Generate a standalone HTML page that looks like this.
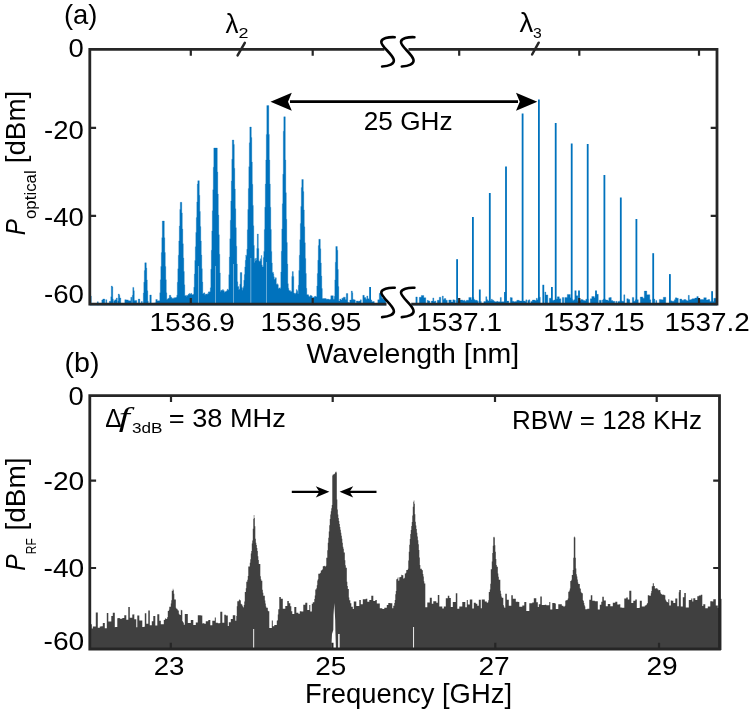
<!DOCTYPE html>
<html lang="en"><head><meta charset="utf-8"><title>Optical and RF spectra</title>
<style>html,body{margin:0;padding:0;background:#fff}svg{display:block}svg{will-change:transform}text{font-family:'Liberation Sans', sans-serif;fill:#000}</style></head><body>
<svg width="750" height="714" viewBox="0 0 750 714">
<rect width="750" height="714" fill="#fff"/>
<g id="panel-a">
<path d="M89.8,305.2L89.8,296.12 H90.3L90.3,296.12 H90.8L90.8,296.12 H91.3L91.3,305.2 H91.8L91.8,305.2 H92.3L92.3,305.2 H92.8L92.8,305.2 H93.3L93.3,305.2 H93.8L93.8,305.2 H94.3L94.3,305.2 H94.8L94.8,305.2 H95.3L95.3,305.2 H95.8L95.8,305.2 H96.3L96.3,305.2 H96.8L96.8,305.2 H97.3L97.3,301.74 H97.8L97.8,301.74 H98.3L98.3,305.2 H98.8L98.8,305.2 H99.3L99.3,305.2 H99.8L99.8,305.2 H100.3L100.3,305.2 H100.8L100.8,305.2 H101.3L101.3,305.2 H101.8L101.8,300.05 H102.3L102.3,300.05 H102.8L102.8,299.02 H103.3L103.3,299.02 H103.8L103.8,299.02 H104.3L104.3,299.02 H104.8L104.8,305.2 H105.3L105.3,305.2 H105.8L105.8,299.71 H106.3L106.3,299.71 H106.8L106.8,305.2 H107.3L107.3,305.2 H107.8L107.8,305.2 H108.3L108.3,305.2 H108.8L108.8,305.2 H109.3L109.3,301.37 H109.8L109.8,301.37 H110.3L110.3,301.37 H110.8L110.8,296.78 H111.3L111.3,286 H111.8L111.8,286 H112.3L112.3,287.03 H112.8L112.8,298.95 H113.3L113.3,305.2 H113.8L113.8,300.76 H114.3L114.3,300.76 H114.8L114.8,299.78 H115.3L115.3,299.78 H115.8L115.8,299.78 H116.3L116.3,298.04 H116.8L116.8,298.04 H117.3L117.3,305.2 H117.8L117.8,301.01 H118.3L118.3,294 H118.8L118.8,294 H119.3L119.3,295.31 H119.8L119.8,297.96 H120.3L120.3,297.96 H120.8L120.8,305.2 H121.3L121.3,305.2 H121.8L121.8,305.2 H122.3L122.3,305.2 H122.8L122.8,305.2 H123.3L123.3,305.2 H123.8L123.8,305.2 H124.3L124.3,305.2 H124.8L124.8,299.69 H125.3L125.3,299.69 H125.8L125.8,299.69 H126.3L126.3,299.89 H126.8L126.8,299.89 H127.3L127.3,299.89 H127.8L127.8,299.89 H128.3L128.3,300.76 H128.8L128.8,300.76 H129.3L129.3,300.76 H129.8L129.8,300.76 H130.3L130.3,300.76 H130.8L130.8,297.35 H131.3L131.3,297.35 H131.8L131.8,305.2 H132.3L132.3,295.28 H132.8L132.8,287.4 H133.3L133.3,287.4 H133.8L133.8,290.87 H134.3L134.3,300.41 H134.8L134.8,300.41 H135.3L135.3,300.41 H135.8L135.8,300.41 H136.3L136.3,300.41 H136.8L136.8,305.2 H137.3L137.3,305.2 H137.8L137.8,305.2 H138.3L138.3,299.03 H138.8L138.8,299.03 H139.3L139.3,299.03 H139.8L139.8,305.2 H140.3L140.3,305.2 H140.8L140.8,305.2 H141.3L141.3,301.4 H141.8L141.8,301.4 H142.3L142.3,305.2 H142.8L142.8,303.2 H143.3L143.3,292.96 H143.8L143.8,282.22 H144.3L144.3,270.52 H144.8L144.8,262.8 H145.3L145.3,262.8 H145.8L145.8,262.8 H146.3L146.3,267.94 H146.8L146.8,279.98 H147.3L147.3,290.86 H147.8L147.8,301.18 H148.3L148.3,305.2 H148.8L148.8,305.2 H149.3L149.3,305.2 H149.8L149.8,294.97 H150.3L150.3,294.97 H150.8L150.8,294.97 H151.3L151.3,303.76 H151.8L151.8,303.62 H152.3L152.3,303.57 H152.8L152.8,303.38 H153.3L153.3,303.32 H153.8L153.8,303.2 H154.3L154.3,303.08 H154.8L154.8,302.92 H155.3L155.3,302.8 H155.8L155.8,299.49 H156.3L156.3,299.49 H156.8L156.8,299.49 H157.3L157.3,301.05 H157.8L157.8,301.05 H158.3L158.3,300.71 H158.8L158.8,300.71 H159.3L159.3,300.85 H159.8L159.8,292.81 H160.3L160.3,279.85 H160.8L160.8,266.48 H161.3L161.3,252.55 H161.8L161.8,237.67 H162.3L162.3,221 H162.8L162.8,221 H163.3L163.3,221 H163.8L163.8,221 H164.3L164.3,237.67 H164.8L164.8,252.55 H165.3L165.3,266.48 H165.8L165.8,279.85 H166.3L166.3,292.81 H166.8L166.8,299.84 H167.3L167.3,299.01 H167.8L167.8,298.73 H168.3L168.3,298.28 H168.8L168.8,298.28 H169.3L169.3,295.29 H169.8L169.8,295.29 H170.3L170.3,295.29 H170.8L170.8,297.22 H171.3L171.3,297.22 H171.8L171.8,298.42 H172.3L172.3,298.15 H172.8L172.8,298.67 H173.3L173.3,298.18 H173.8L173.8,297.78 H174.3L174.3,298.25 H174.8L174.8,297.45 H175.3L175.3,297.74 H175.8L175.8,298.1 H176.3L176.3,297.09 H176.8L176.8,295.23 H177.3L177.3,282.2 H177.8L177.8,268.87 H178.3L178.3,255.17 H178.8L178.8,240.96 H179.3L179.3,225.97 H179.8L179.8,209.38 H180.3L180.3,202.3 H180.8L180.8,202.3 H181.3L181.3,202.3 H181.8L181.8,212.94 H182.3L182.3,229.05 H182.8L182.8,243.85 H183.3L183.3,257.95 H183.8L183.8,271.57 H184.3L184.3,284.83 H184.8L184.8,295.84 H185.3L185.3,295.81 H185.8L185.8,295.32 H186.3L186.3,296.55 H186.8L186.8,295.4 H187.3L187.3,295.42 H187.8L187.8,295.36 H188.3L188.3,293.99 H188.8L188.8,294.35 H189.3L189.3,293.37 H189.8L189.8,294.6 H190.3L190.3,294.03 H190.8L190.8,293.23 H191.3L191.3,293.47 H191.8L191.8,294.83 H192.3L192.3,294.7 H192.8L192.8,294.59 H193.3L193.3,294.28 H193.8L193.8,287.3 H194.3L194.3,274.04 H194.8L194.8,260.52 H195.3L195.3,246.69 H195.8L195.8,232.43 H196.3L196.3,217.62 H196.8L196.8,201.91 H197.3L197.3,184.05 H197.8L197.8,180.7 H198.3L198.3,180.7 H198.8L198.8,180.7 H199.3L199.3,195.2 H199.8L199.8,211.47 H200.3L200.3,226.59 H200.8L200.8,241.04 H201.3L201.3,255.03 H201.8L201.8,268.67 H202.3L202.3,282.02 H202.8L202.8,293.98 H203.3L203.3,293.17 H203.8L203.8,293.01 H204.3L204.3,292.83 H204.8L204.8,295.18 H205.3L205.3,294.35 H205.8L205.8,294.08 H206.3L206.3,294.11 H206.8L206.8,294.7 H207.3L207.3,293.76 H207.8L207.8,294.12 H208.3L208.3,291.96 H208.8L208.8,291.69 H209.3L209.3,292.27 H209.8L209.8,291.64 H210.3L210.3,287.8 H210.8L210.8,269.26 H211.3L211.3,250.33 H211.8L211.8,230.91 H212.3L212.3,210.83 H212.8L212.8,189.82 H213.3L213.3,167.15 H213.8L213.8,148 H214.3L214.3,148 H214.8L214.8,148 H215.3L215.3,148 H215.8L215.8,148 H216.3L216.3,148 H216.8L216.8,148 H217.3L217.3,171.89 H217.8L217.8,194.12 H218.3L218.3,214.91 H218.8L218.8,234.84 H219.3L219.3,254.15 H219.8L219.8,273 H220.3L220.3,291.47 H220.8L220.8,290.19 H221.3L221.3,290.37 H221.8L221.8,290.68 H222.3L222.3,289.87 H222.8L222.8,289.58 H223.3L223.3,290.52 H223.8L223.8,290.74 H224.3L224.3,292.54 H224.8L224.8,291.83 H225.3L225.3,291.81 H225.8L225.8,291.18 H226.3L226.3,291.22 H226.8L226.8,290.55 H227.3L227.3,289 H227.8L227.8,290.28 H228.3L228.3,289.78 H228.8L228.8,274.71 H229.3L229.3,256.96 H229.8L229.8,238.83 H230.3L230.3,220.23 H230.8L230.8,201.01 H231.3L231.3,180.91 H231.8L231.8,159.28 H232.3L232.3,140 H232.8L232.8,140 H233.3L233.3,140 H233.8L233.8,144.45 H234.3L234.3,168.2 H234.8L234.8,189.09 H235.3L235.3,208.78 H235.8L235.8,227.73 H236.3L236.3,246.13 H236.8L236.8,264.1 H237.3L237.3,281.72 H237.8L237.8,286.76 H238.3L238.3,286.43 H238.8L238.8,289.97 H239.3L239.3,288.92 H239.8L239.8,284.29 H240.3L240.3,272.6 H240.8L240.8,272.6 H241.3L241.3,272.6 H241.8L241.8,287.55 H242.3L242.3,290.26 H242.8L242.8,288.19 H243.3L243.3,286.41 H243.8L243.8,280.21 H244.3L244.3,274.47 H244.8L244.8,266.9 H245.3L245.3,260.35 H245.8L245.8,254.99 H246.3L246.3,256.26 H246.8L246.8,249.34 H247.3L247.3,229.68 H247.8L247.8,209.49 H248.3L248.3,188.59 H248.8L248.8,166.66 H249.3L249.3,142.77 H249.8L249.8,127 H250.3L250.3,127 H250.8L250.8,127 H251.3L251.3,137.5 H251.8L251.8,162.09 H252.3L252.3,184.3 H252.8L252.8,205.38 H253.3L253.3,225.69 H253.8L253.8,245.45 H254.3L254.3,262.62 H254.8L254.8,258.65 H255.3L255.3,261.09 H255.8L255.8,258.07 H256.3L256.3,260.35 H256.8L256.8,248.51 H257.3L257.3,234 H257.8L257.8,234 H258.3L258.3,248.51 H258.8L258.8,260.79 H259.3L259.3,261.62 H259.8L259.8,261.28 H260.3L260.3,258.81 H260.8L260.8,260.14 H261.3L261.3,255.49 H261.8L261.8,264.98 H262.3L262.3,267.02 H262.8L262.8,266.79 H263.3L263.3,257.55 H263.8L263.8,251.39 H264.3L264.3,229.56 H264.8L264.8,207.19 H265.3L265.3,184.11 H265.8L265.8,160.06 H266.3L266.3,134.38 H266.8L266.8,105.6 H267.3L267.3,105.6 H267.8L267.8,105.6 H268.3L268.3,105.6 H268.8L268.8,134.38 H269.3L269.3,160.06 H269.8L269.8,184.11 H270.3L270.3,207.19 H270.8L270.8,229.56 H271.3L271.3,251.39 H271.8L271.8,262.94 H272.3L272.3,272.78 H272.8L272.8,272.11 H273.3L273.3,273.66 H273.8L273.8,276.84 H274.3L274.3,279.5 H274.8L274.8,279.02 H275.3L275.3,277.63 H275.8L275.8,277.8 H276.3L276.3,284.07 H276.8L276.8,284.97 H277.3L277.3,283.79 H277.8L277.8,284.65 H278.3L278.3,288.65 H278.8L278.8,288.08 H279.3L279.3,288.33 H279.8L279.8,287.66 H280.3L280.3,288.76 H280.8L280.8,271.99 H281.3L281.3,251.34 H281.8L281.8,228.9 H282.3L282.3,203.84 H282.8L282.8,174.24 H283.3L283.3,131.19 H283.8L283.8,116.8 H284.3L284.3,116.8 H284.8L284.8,116.8 H285.3L285.3,159.98 H285.8L285.8,192.73 H286.3L286.3,219.26 H286.8L286.8,242.61 H287.3L287.3,263.91 H287.8L287.8,283.72 H288.3L288.3,288.14 H288.8L288.8,290.16 H289.3L289.3,290.99 H289.8L289.8,290.45 H290.3L290.3,291.14 H290.8L290.8,291.93 H291.3L291.3,291.29 H291.8L291.8,276.44 H292.3L292.3,271.6 H292.8L292.8,271.6 H293.3L293.3,276.44 H293.8L293.8,292.88 H294.3L294.3,293.32 H294.8L294.8,294.18 H295.3L295.3,293.55 H295.8L295.8,292.86 H296.3L296.3,289.53 H296.8L296.8,290.15 H297.3L297.3,291.3 H297.8L297.8,293.71 H298.3L298.3,285.32 H298.8L298.8,270.49 H299.3L299.3,255.31 H299.8L299.8,239.71 H300.3L300.3,223.52 H300.8L300.8,206.45 H301.3L301.3,187.56 H301.8L301.8,179.5 H302.3L302.3,179.5 H302.8L302.8,179.5 H303.3L303.3,191.61 H303.8L303.8,209.96 H304.3L304.3,226.81 H304.8L304.8,242.87 H305.3L305.3,258.38 H305.8L305.8,273.48 H306.3L306.3,288.26 H306.8L306.8,294.8 H307.3L307.3,294.72 H307.8L307.8,294.57 H308.3L308.3,295.28 H308.8L308.8,296.54 H309.3L309.3,296.65 H309.8L309.8,296.25 H310.3L310.3,295.2 H310.8L310.8,295.57 H311.3L311.3,295.76 H311.8L311.8,296.16 H312.3L312.3,297.76 H312.8L312.8,297.53 H313.3L313.3,297.23 H313.8L313.8,297.44 H314.3L314.3,296.39 H314.8L314.8,296.85 H315.3L315.3,296.16 H315.8L315.8,296.53 H316.3L316.3,296.93 H316.8L316.8,286.12 H317.3L317.3,273.54 H317.8L317.8,260.26 H318.3L318.3,245.57 H318.8L318.8,239.3 H319.3L319.3,239.3 H319.8L319.8,239.3 H320.3L320.3,248.72 H320.8L320.8,262.99 H321.3L321.3,276.1 H321.8L321.8,288.58 H322.3L322.3,298.52 H322.8L322.8,298.66 H323.3L323.3,298.49 H323.8L323.8,298.55 H324.3L324.3,298.51 H324.8L324.8,298.61 H325.3L325.3,298.44 H325.8L325.8,298.64 H326.3L326.3,299.33 H326.8L326.8,299.48 H327.3L327.3,298.99 H327.8L327.8,299.26 H328.3L328.3,299.02 H328.8L328.8,299.66 H329.3L329.3,299.46 H329.8L329.8,299.54 H330.3L330.3,299.3 H330.8L330.8,295.72 H331.3L331.3,295.72 H331.8L331.8,295.72 H332.3L332.3,295.72 H332.8L332.8,295.72 H333.3L333.3,299.2 H333.8L333.8,299.2 H334.3L334.3,296.29 H334.8L334.8,279.89 H335.3L335.3,262.23 H335.8L335.8,246.5 H336.3L336.3,246.5 H336.8L336.8,246.5 H337.3L337.3,250.13 H337.8L337.8,269.51 H338.3L338.3,286.56 H338.8L338.8,301.12 H339.3L339.3,301.07 H339.8L339.8,299.08 H340.3L340.3,299.08 H340.8L340.8,300.08 H341.3L341.3,300.08 H341.8L341.8,298.16 H342.3L342.3,298.16 H342.8L342.8,298.16 H343.3L343.3,297.14 H343.8L343.8,297.14 H344.3L344.3,297.14 H344.8L344.8,297.14 H345.3L345.3,299.4 H345.8L345.8,299.4 H346.3L346.3,293.51 H346.8L346.8,293.51 H347.3L347.3,293.51 H347.8L347.8,302.31 H348.3L348.3,302.39 H348.8L348.8,302.52 H349.3L349.3,302.68 H349.8L349.8,300.04 H350.3L350.3,300.04 H350.8L350.8,300.04 H351.3L351.3,291 H351.8L351.8,291 H352.3L352.3,292.7 H352.8L352.8,299.45 H353.3L353.3,299.45 H353.8L353.8,299.45 H354.3L354.3,299.88 H354.8L354.8,299.88 H355.3L355.3,303.49 H355.8L355.8,303.59 H356.3L356.3,300.97 H356.8L356.8,300.97 H357.3L357.3,300.97 H357.8L357.8,301.17 H358.3L358.3,301.17 H358.8L358.8,301.17 H359.3L359.3,301.12 H359.8L359.8,301.12 H360.3L360.3,299.83 H360.8L360.8,299.83 H361.3L361.3,305.2 H361.8L361.8,305.2 H362.3L362.3,305.2 H362.8L362.8,295.34 H363.3L363.3,295.34 H363.8L363.8,295.34 H364.3L364.3,297.61 H364.8L364.8,297.61 H365.3L365.3,297.61 H365.8L365.8,299.2 H366.3L366.3,299.2 H366.8L366.8,295.96 H367.3L367.3,295.96 H367.8L367.8,298.8 H368.3L368.3,298.8 H368.8L368.8,298.8 H369.3L369.3,299.89 H369.8L369.8,299.89 H370.3L370.3,299.89 H370.8L370.8,299.89 H371.3L371.3,299.89 H371.8L371.8,301.79 H372.3L372.3,301.79 H372.8L372.8,301.58 H373.3L373.3,301.58 H373.8L373.8,301.58 H374.3L374.3,305.2 H374.8L374.8,305.2 H375.3L375.3,305.2 H375.8L375.8,305.2 H376.3L376.3,305.2 H376.8L376.8,305.2 H377.3L377.3,305.2 H377.8L377.8,299.75 H378.3L378.3,299.75 H378.8L378.8,299.75 H379.3L379.3,293.26 H379.8L379.8,293.26 H380.3L380.3,293.26 H380.8L380.8,293.26 H381.3L381.3,293.26 H381.8L381.8,298.25 H382.3L382.3,298.25 H382.8L382.8,298.25 H383.3L383.3,299.13 H383.8L383.8,299.13 H384.3L384.3,299.13 H384.8L384.8,299.13 H385.3L385.3,299.13 H385.8L385.8,305.2 H386.3L386.3,305.2 H386.8L386.8,305.2 H387.3L387.3,305.2 H387.8L387.8,305.2 H388.3L388.3,305.2 H388.8L388.8,305.2 H389.3L389.3,305.2 H389.8L389.8,305.2 H390.3L390.3,305.2 H390.8L390.8,305.2 H391.3L391.3,305.2 H391.8L391.8,305.2 H392.3L392.3,305.2 H392.8L392.8,305.2 H393.3L393.3,305.2 H393.8L393.8,305.2 H394.3L394.3,305.2 H394.8L394.8,305.2 H395.3L395.3,305.2 H395.8L395.8,305.2 H396.3L396.3,305.2 H396.8L396.8,305.2 H397.3L397.3,305.2 H397.8L397.8,305.2 H398.3L398.3,305.2 H398.8L398.8,305.2 H399.3L399.3,305.2 H399.8L399.8,305.2 H400.3L400.3,305.2 H400.8L400.8,305.2 H401.3L401.3,305.2 H401.8L401.8,305.2 H402.3L402.3,305.2 H402.8L402.8,305.2 H403.3L403.3,305.2 H403.8L403.8,305.2 H404.3L404.3,305.2 H404.8L404.8,305.2 H405.3L405.3,305.2 H405.8L405.8,305.2 H406.3L406.3,305.2 H406.8L406.8,305.2 H407.3L407.3,305.2 H407.8L407.8,305.2 H408.3L408.3,305.2 H408.8L408.8,305.2 H409.3L409.3,305.2 H409.8L409.8,305.2 H410.3L410.3,305.2 H410.8L410.8,305.2 H411.3L411.3,305.2 H411.8L411.8,305.2 H412.3L412.3,305.2 H412.8L412.8,305.2 H413.3L413.3,305.2 H413.8L413.8,305.2 H414.3L414.3,305.2 H414.8L414.8,305.2 H415.3L415.3,305.2 H415.8L415.8,296.93 H416.3L416.3,296.93 H416.8L416.8,296.93 H417.3L417.3,305.2 H417.8L417.8,305.2 H418.3L418.3,305.2 H418.8L418.8,305.2 H419.3L419.3,297.29 H419.8L419.8,297.29 H420.3L420.3,297.29 H420.8L420.8,297.29 H421.3L421.3,295.49 H421.8L421.8,295.49 H422.3L422.3,295.49 H422.8L422.8,295.49 H423.3L423.3,295.49 H423.8L423.8,297.66 H424.3L424.3,297.66 H424.8L424.8,297.66 H425.3L425.3,297.66 H425.8L425.8,305.2 H426.3L426.3,305.2 H426.8L426.8,305.2 H427.3L427.3,300.35 H427.8L427.8,300.35 H428.3L428.3,300.92 H428.8L428.8,300.92 H429.3L429.3,300.92 H429.8L429.8,305.2 H430.3L430.3,305.2 H430.8L430.8,305.2 H431.3L431.3,301.07 H431.8L431.8,301.07 H432.3L432.3,301.07 H432.8L432.8,297.93 H433.3L433.3,297.93 H433.8L433.8,301.44 H434.3L434.3,301.44 H434.8L434.8,300.94 H435.3L435.3,300.94 H435.8L435.8,305.2 H436.3L436.3,305.2 H436.8L436.8,305.2 H437.3L437.3,300.25 H437.8L437.8,300.25 H438.3L438.3,300.25 H438.8L438.8,300.25 H439.3L439.3,297.19 H439.8L439.8,297.19 H440.3L440.3,297.19 H440.8L440.8,305.2 H441.3L441.3,305.2 H441.8L441.8,305.2 H442.3L442.3,295.99 H442.8L442.8,295.99 H443.3L443.3,299.41 H443.8L443.8,299.41 H444.3L444.3,298.56 H444.8L444.8,298.56 H445.3L445.3,298.56 H445.8L445.8,300.3 H446.3L446.3,300.3 H446.8L446.8,300.3 H447.3L447.3,305.2 H447.8L447.8,305.2 H448.3L448.3,305.2 H448.8L448.8,299.97 H449.3L449.3,299.97 H449.8L449.8,299.97 H450.3L450.3,299.97 H450.8L450.8,299.97 H451.3L451.3,301.89 H451.8L451.8,301.89 H452.3L452.3,301.89 H452.8L452.8,299.86 H453.3L453.3,299.86 H453.8L453.8,299.86 H454.3L454.3,300.13 H454.8L454.8,300.13 H455.3L455.3,305.2 H455.8L455.8,305.2 H456.3L456.3,305.2 H456.8L456.8,301.04 H457.3L457.3,301.04 H457.8L457.8,301.04 H458.3L458.3,301.04 H458.8L458.8,301.04 H459.3L459.3,300.2 H459.8L459.8,300.2 H460.3L460.3,300.03 H460.8L460.8,300.03 H461.3L461.3,300.03 H461.8L461.8,300.03 H462.3L462.3,300.03 H462.8L462.8,300.83 H463.3L463.3,300.83 H463.8L463.8,300.18 H464.3L464.3,300.18 H464.8L464.8,301.13 H465.3L465.3,301.13 H465.8L465.8,301.13 H466.3L466.3,300.25 H466.8L466.8,300.25 H467.3L467.3,300.24 H467.8L467.8,300.24 H468.3L468.3,300.24 H468.8L468.8,297.44 H469.3L469.3,297.44 H469.8L469.8,297.44 H470.3L470.3,297.44 H470.8L470.8,297.44 H471.3L471.3,299.7 H471.8L471.8,299.7 H472.3L472.3,297.44 H472.8L472.8,297.44 H473.3L473.3,297.44 H473.8L473.8,299.49 H474.3L474.3,299.49 H474.8L474.8,300.31 H475.3L475.3,300.31 H475.8L475.8,300.31 H476.3L476.3,300.31 H476.8L476.8,300.31 H477.3L477.3,301.17 H477.8L477.8,301.17 H478.3L478.3,305.2 H478.8L478.8,305.2 H479.3L479.3,305.2 H479.8L479.8,305.2 H480.3L480.3,301.53 H480.8L480.8,301.53 H481.3L481.3,305.2 H481.8L481.8,305.2 H482.3L482.3,305.2 H482.8L482.8,305.2 H483.3L483.3,305.2 H483.8L483.8,301.53 H484.3L484.3,301.53 H484.8L484.8,301.53 H485.3L485.3,301.53 H485.8L485.8,296.64 H486.3L486.3,296.64 H486.8L486.8,299.63 H487.3L487.3,299.63 H487.8L487.8,300.94 H488.3L488.3,300.94 H488.8L488.8,300.66 H489.3L489.3,300.66 H489.8L489.8,300.66 H490.3L490.3,300.66 H490.8L490.8,300.66 H491.3L491.3,299.18 H491.8L491.8,299.18 H492.3L492.3,300.2 H492.8L492.8,300.2 H493.3L493.3,300.2 H493.8L493.8,301.36 H494.3L494.3,301.36 H494.8L494.8,301.75 H495.3L495.3,301.75 H495.8L495.8,301.75 H496.3L496.3,301.75 H496.8L496.8,301.37 H497.3L497.3,301.37 H497.8L497.8,301.81 H498.3L498.3,301.81 H498.8L498.8,301.81 H499.3L499.3,301.81 H499.8L499.8,301.81 H500.3L500.3,297.44 H500.8L500.8,297.44 H501.3L501.3,301.78 H501.8L501.8,301.78 H502.3L502.3,301.78 H502.8L502.8,301.73 H503.3L503.3,301.73 H503.8L503.8,301.73 H504.3L504.3,301.73 H504.8L504.8,301.3 H505.3L505.3,301.3 H505.8L505.8,305.2 H506.3L506.3,305.2 H506.8L506.8,301.1 H507.3L507.3,301.1 H507.8L507.8,301.1 H508.3L508.3,301.1 H508.8L508.8,305.2 H509.3L509.3,305.2 H509.8L509.8,305.2 H510.3L510.3,297.55 H510.8L510.8,297.55 H511.3L511.3,297.71 H511.8L511.8,297.71 H512.3L512.3,301.18 H512.8L512.8,301.18 H513.3L513.3,301.18 H513.8L513.8,301.75 H514.3L514.3,301.75 H514.8L514.8,301.75 H515.3L515.3,301.54 H515.8L515.8,301.54 H516.3L516.3,301.54 H516.8L516.8,300.3 H517.3L517.3,300.3 H517.8L517.8,300.3 H518.3L518.3,300.3 H518.8L518.8,300.3 H519.3L519.3,300.94 H519.8L519.8,300.94 H520.3L520.3,300.94 H520.8L520.8,301.08 H521.3L521.3,301.08 H521.8L521.8,301.08 H522.3L522.3,301.08 H522.8L522.8,301.08 H523.3L523.3,301 H523.8L523.8,301 H524.3L524.3,301 H524.8L524.8,301.54 H525.3L525.3,301.54 H525.8L525.8,299.87 H526.3L526.3,299.87 H526.8L526.8,305.2 H527.3L527.3,305.2 H527.8L527.8,300.43 H528.3L528.3,300.43 H528.8L528.8,299.77 H529.3L529.3,299.77 H529.8L529.8,305.2 H530.3L530.3,305.2 H530.8L530.8,301.5 H531.3L531.3,301.5 H531.8L531.8,301.5 H532.3L532.3,300.05 H532.8L532.8,300.05 H533.3L533.3,300.05 H533.8L533.8,299.97 H534.3L534.3,299.97 H534.8L534.8,300.5 H535.3L535.3,300.5 H535.8L535.8,300.5 H536.3L536.3,298.26 H536.8L536.8,298.26 H537.3L537.3,299.8 H537.8L537.8,299.8 H538.3L538.3,297.28 H538.8L538.8,297.28 H539.3L539.3,297.28 H539.8L539.8,297.28 H540.3L540.3,305.2 H540.8L540.8,305.2 H541.3L541.3,305.2 H541.8L541.8,305.2 H542.3L542.3,305.2 H542.8L542.8,305.2 H543.3L543.3,305.2 H543.8L543.8,305.2 H544.3L544.3,305.2 H544.8L544.8,292.04 H545.3L545.3,292.04 H545.8L545.8,294.88 H546.3L546.3,294.88 H546.8L546.8,294.88 H547.3L547.3,294.88 H547.8L547.8,305.2 H548.3L548.3,305.2 H548.8L548.8,305.2 H549.3L549.3,298.16 H549.8L549.8,298.16 H550.3L550.3,298.16 H550.8L550.8,298.16 H551.3L551.3,300.45 H551.8L551.8,300.45 H552.3L552.3,300.45 H552.8L552.8,300.45 H553.3L553.3,300.45 H553.8L553.8,299.89 H554.3L554.3,299.89 H554.8L554.8,299.89 H555.3L555.3,299.89 H555.8L555.8,299.89 H556.3L556.3,299.08 H556.8L556.8,299.08 H557.3L557.3,296.8 H557.8L557.8,296.8 H558.3L558.3,296.8 H558.8L558.8,296.8 H559.3L559.3,298.78 H559.8L559.8,298.78 H560.3L560.3,298.78 H560.8L560.8,305.2 H561.3L561.3,305.2 H561.8L561.8,305.2 H562.3L562.3,297.43 H562.8L562.8,297.43 H563.3L563.3,297.43 H563.8L563.8,305.2 H564.3L564.3,305.2 H564.8L564.8,297.45 H565.3L565.3,297.45 H565.8L565.8,297.45 H566.3L566.3,297.45 H566.8L566.8,297.45 H567.3L567.3,294.44 H567.8L567.8,294.44 H568.3L568.3,294.44 H568.8L568.8,294.44 H569.3L569.3,294.53 H569.8L569.8,294.53 H570.3L570.3,297.77 H570.8L570.8,297.77 H571.3L571.3,299.07 H571.8L571.8,299.07 H572.3L572.3,300.38 H572.8L572.8,300.38 H573.3L573.3,300.38 H573.8L573.8,299.67 H574.3L574.3,299.67 H574.8L574.8,299.67 H575.3L575.3,299.67 H575.8L575.8,295.78 H576.3L576.3,295.78 H576.8L576.8,295.78 H577.3L577.3,295.78 H577.8L577.8,301.17 H578.3L578.3,301.17 H578.8L578.8,301.17 H579.3L579.3,301.17 H579.8L579.8,300.44 H580.3L580.3,300.44 H580.8L580.8,299.53 H581.3L581.3,299.53 H581.8L581.8,299.53 H582.3L582.3,299.86 H582.8L582.8,299.86 H583.3L583.3,300.57 H583.8L583.8,300.57 H584.3L584.3,300.57 H584.8L584.8,300.67 H585.3L585.3,300.67 H585.8L585.8,299.26 H586.3L586.3,299.26 H586.8L586.8,299.26 H587.3L587.3,299.26 H587.8L587.8,299.26 H588.3L588.3,305.2 H588.8L588.8,305.2 H589.3L589.3,305.2 H589.8L589.8,305.2 H590.3L590.3,298.76 H590.8L590.8,298.76 H591.3L591.3,298.76 H591.8L591.8,296.51 H592.3L592.3,296.51 H592.8L592.8,296.51 H593.3L593.3,296.51 H593.8L593.8,296.51 H594.3L594.3,297.68 H594.8L594.8,297.68 H595.3L595.3,297.68 H595.8L595.8,294.34 H596.3L596.3,294.34 H596.8L596.8,294.34 H597.3L597.3,294.34 H597.8L597.8,294.34 H598.3L598.3,305.2 H598.8L598.8,305.2 H599.3L599.3,300.19 H599.8L599.8,300.19 H600.3L600.3,300.19 H600.8L600.8,300.19 H601.3L601.3,305.2 H601.8L601.8,305.2 H602.3L602.3,299.96 H602.8L602.8,299.96 H603.3L603.3,298.97 H603.8L603.8,298.97 H604.3L604.3,298.97 H604.8L604.8,298.97 H605.3L605.3,299.95 H605.8L605.8,299.95 H606.3L606.3,300.02 H606.8L606.8,300.02 H607.3L607.3,300.02 H607.8L607.8,300.78 H608.3L608.3,300.78 H608.8L608.8,297.81 H609.3L609.3,297.81 H609.8L609.8,297.48 H610.3L610.3,297.48 H610.8L610.8,297.48 H611.3L611.3,300.57 H611.8L611.8,300.57 H612.3L612.3,300.57 H612.8L612.8,301.33 H613.3L613.3,301.33 H613.8L613.8,301.33 H614.3L614.3,301.33 H614.8L614.8,305.2 H615.3L615.3,305.2 H615.8L615.8,301.35 H616.3L616.3,301.35 H616.8L616.8,305.2 H617.3L617.3,305.2 H617.8L617.8,301.45 H618.3L618.3,301.45 H618.8L618.8,301.45 H619.3L619.3,301.45 H619.8L619.8,300.73 H620.3L620.3,300.73 H620.8L620.8,300.73 H621.3L621.3,300.73 H621.8L621.8,301.19 H622.3L622.3,301.19 H622.8L622.8,301.19 H623.3L623.3,301.19 H623.8L623.8,294.8 H624.3L624.3,294.8 H624.8L624.8,305.2 H625.3L625.3,305.2 H625.8L625.8,305.2 H626.3L626.3,305.2 H626.8L626.8,298.7 H627.3L627.3,298.7 H627.8L627.8,298.7 H628.3L628.3,299.61 H628.8L628.8,299.61 H629.3L629.3,299.61 H629.8L629.8,305.2 H630.3L630.3,305.2 H630.8L630.8,305.2 H631.3L631.3,305.2 H631.8L631.8,305.2 H632.3L632.3,297.41 H632.8L632.8,297.41 H633.3L633.3,297.41 H633.8L633.8,301.29 H634.3L634.3,301.29 H634.8L634.8,301.29 H635.3L635.3,299.79 H635.8L635.8,299.79 H636.3L636.3,299.79 H636.8L636.8,299.68 H637.3L637.3,299.68 H637.8L637.8,299.68 H638.3L638.3,305.2 H638.8L638.8,305.2 H639.3L639.3,305.2 H639.8L639.8,305.2 H640.3L640.3,297.04 H640.8L640.8,297.04 H641.3L641.3,297.04 H641.8L641.8,296.93 H642.3L642.3,296.93 H642.8L642.8,298.15 H643.3L643.3,298.15 H643.8L643.8,298.15 H644.3L644.3,291.07 H644.8L644.8,291.07 H645.3L645.3,291.07 H645.8L645.8,291.07 H646.3L646.3,291.07 H646.8L646.8,294.85 H647.3L647.3,294.85 H647.8L647.8,294.85 H648.3L648.3,294.68 H648.8L648.8,294.68 H649.3L649.3,294.68 H649.8L649.8,299.8 H650.3L650.3,299.8 H650.8L650.8,305.2 H651.3L651.3,305.2 H651.8L651.8,305.2 H652.3L652.3,305.2 H652.8L652.8,299.03 H653.3L653.3,299.03 H653.8L653.8,299.03 H654.3L654.3,299.03 H654.8L654.8,305.2 H655.3L655.3,305.2 H655.8L655.8,300.44 H656.3L656.3,300.44 H656.8L656.8,305.2 H657.3L657.3,305.2 H657.8L657.8,305.2 H658.3L658.3,305.2 H658.8L658.8,305.2 H659.3L659.3,299.44 H659.8L659.8,299.44 H660.3L660.3,299.44 H660.8L660.8,299.44 H661.3L661.3,299.82 H661.8L661.8,299.82 H662.3L662.3,299.82 H662.8L662.8,299.82 H663.3L663.3,297.27 H663.8L663.8,297.27 H664.3L664.3,297.27 H664.8L664.8,297.27 H665.3L665.3,297.27 H665.8L665.8,305.2 H666.3L666.3,305.2 H666.8L666.8,305.2 H667.3L667.3,305.2 H667.8L667.8,305.2 H668.3L668.3,305.2 H668.8L668.8,305.2 H669.3L669.3,300.8 H669.8L669.8,300.8 H670.3L670.3,300.8 H670.8L670.8,300.8 H671.3L671.3,300.8 H671.8L671.8,301.17 H672.3L672.3,301.17 H672.8L672.8,301.17 H673.3L673.3,301.17 H673.8L673.8,301.17 H674.3L674.3,299.76 H674.8L674.8,299.76 H675.3L675.3,297.85 H675.8L675.8,297.85 H676.3L676.3,297.85 H676.8L676.8,298.27 H677.3L677.3,298.27 H677.8L677.8,298.27 H678.3L678.3,305.2 H678.8L678.8,305.2 H679.3L679.3,305.2 H679.8L679.8,299.03 H680.3L680.3,299.03 H680.8L680.8,299.03 H681.3L681.3,299.03 H681.8L681.8,300.26 H682.3L682.3,300.26 H682.8L682.8,300.26 H683.3L683.3,300.26 H683.8L683.8,299.52 H684.3L684.3,299.52 H684.8L684.8,299.52 H685.3L685.3,299.52 H685.8L685.8,300.17 H686.3L686.3,300.17 H686.8L686.8,300.77 H687.3L687.3,300.77 H687.8L687.8,300.77 H688.3L688.3,295.33 H688.8L688.8,295.33 H689.3L689.3,299.73 H689.8L689.8,299.73 H690.3L690.3,299.73 H690.8L690.8,299.73 H691.3L691.3,299.35 H691.8L691.8,299.35 H692.3L692.3,298.63 H692.8L692.8,298.63 H693.3L693.3,298.63 H693.8L693.8,298.63 H694.3L694.3,298.63 H694.8L694.8,298.05 H695.3L695.3,298.05 H695.8L695.8,298.05 H696.3L696.3,298.05 H696.8L696.8,296.62 H697.3L697.3,296.62 H697.8L697.8,296.62 H698.3L698.3,299.04 H698.8L698.8,299.04 H699.3L699.3,299.04 H699.8L699.8,299.48 H700.3L700.3,299.48 H700.8L700.8,299.48 H701.3L701.3,299.56 H701.8L701.8,299.56 H702.3L702.3,299.56 H702.8L702.8,299.56 H703.3L703.3,299.56 H703.8L703.8,297.67 H704.3L704.3,297.67 H704.8L704.8,297.67 H705.3L705.3,297.67 H705.8L705.8,297.67 H706.3L706.3,299.9 H706.8L706.8,299.9 H707.3L707.3,299.9 H707.8L707.8,299.53 H708.3L708.3,299.53 H708.8L708.8,299.53 H709.3L709.3,299.53 H709.8L709.8,301.61 H710.3L710.3,301.61 H710.8L710.8,301.61 H711.3L711.3,301.46 H711.8L711.8,301.46 H712.3L712.3,301.46 H712.8L712.8,301.46 H713.3L713.3,301.46 H713.8L713.8,298.27 H714.3L714.3,298.27 H714.8L714.8,298.27 H715.3L715.3,298.27 H715.8L715.8,298.27 H716.3L716.3,300.51 H716.8L716.8,300.51 H717L717,305.2 Z" fill="#0072bd" stroke="#0072bd" stroke-width="0.3" stroke-linejoin="round"/>
<rect x="456.2" y="259.2" width="1.8" height="45" fill="#0072bd"/>
<rect x="472" y="217" width="1.8" height="87.2" fill="#0072bd"/>
<rect x="488.9" y="193" width="1.8" height="111.2" fill="#0072bd"/>
<rect x="505.1" y="166.5" width="1.8" height="137.7" fill="#0072bd"/>
<rect x="521.7" y="113.5" width="1.8" height="190.7" fill="#0072bd"/>
<rect x="538" y="99.5" width="1.8" height="204.7" fill="#0072bd"/>
<rect x="554.8" y="123" width="1.8" height="181.2" fill="#0072bd"/>
<rect x="570.8" y="143.5" width="1.8" height="160.7" fill="#0072bd"/>
<rect x="586.8" y="144" width="1.8" height="160.2" fill="#0072bd"/>
<rect x="603.5" y="175" width="1.8" height="129.2" fill="#0072bd"/>
<rect x="619.9" y="197.5" width="1.8" height="106.7" fill="#0072bd"/>
<rect x="635.5" y="219" width="1.8" height="85.2" fill="#0072bd"/>
<rect x="652.3" y="253.2" width="1.8" height="51" fill="#0072bd"/>
<rect x="669" y="274.1" width="1.8" height="30.1" fill="#0072bd"/>
<rect x="711.2" y="291.2" width="1.8" height="13" fill="#0072bd"/>
<rect x="478.9" y="289.5" width="1.8" height="14.7" fill="#0072bd"/>
<rect x="542.4" y="284.8" width="1.8" height="19.4" fill="#0072bd"/>
<rect x="551" y="287" width="1.8" height="17.2" fill="#0072bd"/>
<rect x="504.1" y="292" width="1.8" height="12.2" fill="#0072bd"/>
<rect x="574.6" y="290.5" width="1.8" height="13.7" fill="#0072bd"/>
<rect x="578.1" y="290.5" width="1.8" height="13.7" fill="#0072bd"/>
<rect x="595.1" y="290.5" width="1.8" height="13.7" fill="#0072bd"/>
<rect x="369.2" y="287" width="1.8" height="17.2" fill="#0072bd"/>
<rect x="198.35" y="266" width="0.5" height="38.2" fill="#fff" fill-opacity="0.8"/>
<rect x="215.45" y="266" width="0.5" height="38.2" fill="#fff" fill-opacity="0.8"/>
<rect x="233.15" y="264" width="0.5" height="40.2" fill="#fff" fill-opacity="0.8"/>
<rect x="250.65" y="258" width="0.5" height="46.2" fill="#fff" fill-opacity="0.8"/>
<rect x="266.05" y="262" width="0.5" height="42.2" fill="#fff" fill-opacity="0.8"/>
<g fill="none" stroke="#262626" stroke-width="2.8" stroke-linecap="butt">
<path d="M89.8,49.4 H717 V304.2 H89.8 Z"/>
</g>
<g stroke="#262626" stroke-width="2.2" fill="none">
<path d="M190.8,49.4 v6.3 M190.8,304.2 v-6.3"/>
<path d="M312.7,49.4 v6.3 M312.7,304.2 v-6.3"/>
<path d="M459.2,49.4 v6.3 M459.2,304.2 v-6.3"/>
<path d="M579.3,49.4 v6.3 M579.3,304.2 v-6.3"/>
<path d="M699,49.4 v6.3 M699,304.2 v-6.3"/>
<path d="M89.8,127.8 h6.3 M717,127.8 h-6.3"/>
<path d="M89.8,215.9 h6.3 M717,215.9 h-6.3"/>
</g>
<rect x="384.5" y="44" width="24" height="11" fill="#fff"/>
<rect x="386.5" y="286" width="24.7" height="24" fill="#fff"/>
<g fill="none" stroke="#000" stroke-width="2.6" stroke-linecap="round" stroke-linejoin="round">
<path d="M394.7,37.2 c-6.5,-0.3 -13.2,1.2 -13.4,4.6 c-0.3,4.6 10.6,11.6 12.4,17.6 c1.4,4.8 -5.4,6.6 -11.6,7.1"/>
<path d="M414.4,37.2 c-6.5,-0.3 -13.2,1.2 -13.4,4.6 c-0.3,4.6 10.6,11.6 12.4,17.6 c1.4,4.8 -5.4,6.6 -11.6,7.1"/>
<path d="M394.7,287.8 c-6.5,-0.3 -13.2,1.2 -13.4,4.6 c-0.3,4.6 10.6,11.6 12.4,17.6 c1.4,4.8 -5.4,6.6 -11.6,7.1"/>
<path d="M414.4,287.8 c-6.5,-0.3 -13.2,1.2 -13.4,4.6 c-0.3,4.6 10.6,11.6 12.4,17.6 c1.4,4.8 -5.4,6.6 -11.6,7.1"/>
<path d="M244.8,42.9 L237.6,55.4" stroke="#262626" stroke-width="2.5"/>
<path d="M538.7,42.7 L532.1,54.5" stroke="#262626" stroke-width="2.5"/>
</g>
<path d="M290,101.7 H518" stroke="#000" stroke-width="2.7" fill="none"/>
<path d="M270.5,101.7 L291.8,92.8 L288,101.7 L291.8,110.7 Z" fill="#000"/>
<path d="M537.3,101.7 L516,92.8 L519.8,101.7 L516,110.7 Z" fill="#000"/>
<text id="t0" x="64" y="24.1" font-size="27.5" textLength="33.5" lengthAdjust="spacingAndGlyphs">(a)</text>
<text id="t1" x="68.5" y="57.4" font-size="25.4" textLength="15.25" lengthAdjust="spacingAndGlyphs">0</text>
<text id="t2" x="44" y="139.3" font-size="25.4" textLength="39.75" lengthAdjust="spacingAndGlyphs">-20</text>
<text id="t3" x="44" y="225.8" font-size="25.4" textLength="39.75" lengthAdjust="spacingAndGlyphs">-40</text>
<text id="t4" x="44" y="302.8" font-size="25.4" textLength="40" lengthAdjust="spacingAndGlyphs">-60</text>
<text id="t5" x="149.5" y="331.2" font-size="25.4" textLength="85.25" lengthAdjust="spacingAndGlyphs">1536.9</text>
<text id="t6" x="260.5" y="331.2" font-size="25.4" textLength="100.75" lengthAdjust="spacingAndGlyphs">1536.95</text>
<text id="t7" x="416.25" y="331.2" font-size="25.4" textLength="85.75" lengthAdjust="spacingAndGlyphs">1537.1</text>
<text id="t8" x="543" y="331.2" font-size="25.4" textLength="101.5" lengthAdjust="spacingAndGlyphs">1537.15</text>
<text id="t9" x="664.5" y="331.2" font-size="25.4" textLength="85.25" lengthAdjust="spacingAndGlyphs">1537.2</text>
<text id="t10" x="306.5" y="363.3" font-size="27.2" textLength="212.75" lengthAdjust="spacingAndGlyphs">Wavelength [nm]</text>
<text id="t11" x="363.75" y="129.6" font-size="26" textLength="88.75" lengthAdjust="spacingAndGlyphs">25 GHz</text>
<text><tspan id="t12" x="225.5" y="33.3" font-size="28" textLength="13" lengthAdjust="spacingAndGlyphs">λ</tspan><tspan id="t13" x="238.5" y="38.3" font-size="14" textLength="10" lengthAdjust="spacingAndGlyphs">2</tspan></text>
<text><tspan id="t14" x="519.5" y="32" font-size="28" textLength="13.75" lengthAdjust="spacingAndGlyphs">λ</tspan><tspan id="t15" x="533" y="37.9" font-size="14.6" textLength="8.75" lengthAdjust="spacingAndGlyphs">3</tspan></text>
<g transform="translate(25.2,234.4) rotate(-90)">
<text><tspan id="t16" x="-0.85" y="0" font-size="27.2" textLength="16.25" lengthAdjust="spacingAndGlyphs" font-style="italic">P</tspan><tspan id="t17" x="15.4" y="10.5" font-size="15.8" textLength="48.75" lengthAdjust="spacingAndGlyphs">optical</tspan><tspan id="t18" x="63.4" y="0" font-size="27.2" textLength="80.25" lengthAdjust="spacingAndGlyphs"> [dBm]</tspan></text>
</g>
</g>
<g id="panel-b">
<path d="M89.8,650L89.8,625.32 H90.3L90.3,625.31 H90.8L90.8,624.29 H91.3L91.3,624.29 H91.8L91.8,628.47 H92.3L92.3,628.47 H92.8L92.8,626.57 H93.3L93.3,626.56 H93.8L93.8,626.56 H94.3L94.3,626.56 H94.8L94.8,626.55 H95.3L95.3,626.55 H95.8L95.8,612.39 H96.3L96.3,612.39 H96.8L96.8,612.39 H97.3L97.3,612.38 H97.8L97.8,627.69 H98.3L98.3,627.68 H98.8L98.8,627.68 H99.3L99.3,627.68 H99.8L99.8,626.38 H100.3L100.3,626.38 H100.8L100.8,626.38 H101.3L101.3,626.37 H101.8L101.8,626.37 H102.3L102.3,626.37 H102.8L102.8,622.9 H103.3L103.3,622.9 H103.8L103.8,622.9 H104.3L104.3,622.89 H104.8L104.8,628.29 H105.3L105.3,628.28 H105.8L105.8,628.28 H106.3L106.3,628.28 H106.8L106.8,612.95 H107.3L107.3,612.95 H107.8L107.8,612.95 H108.3L108.3,621.49 H108.8L108.8,621.48 H109.3L109.3,621.48 H109.8L109.8,621.48 H110.3L110.3,621.48 H110.8L110.8,621.47 H111.3L111.3,616.1 H111.8L111.8,616.09 H112.3L112.3,616.09 H112.8L112.8,612.85 H113.3L113.3,612.85 H113.8L113.8,612.84 H114.3L114.3,612.84 H114.8L114.8,627.13 H115.3L115.3,627.12 H115.8L115.8,627.12 H116.3L116.3,627.12 H116.8L116.8,627.12 H117.3L117.3,618.31 H117.8L117.8,618.31 H118.3L118.3,618.02 H118.8L118.8,618.02 H119.3L119.3,618.02 H119.8L119.8,618.86 H120.3L120.3,618.86 H120.8L120.8,618.86 H121.3L121.3,618.86 H121.8L121.8,618.85 H122.3L122.3,618.08 H122.8L122.8,618.08 H123.3L123.3,618.08 H123.8L123.8,618.08 H124.3L124.3,615.32 H124.8L124.8,615.32 H125.3L125.3,615.32 H125.8L125.8,615.32 H126.3L126.3,619.77 H126.8L126.8,619.77 H127.3L127.3,619.76 H127.8L127.8,619.76 H128.3L128.3,607.09 H128.8L128.8,607.08 H129.3L129.3,607.08 H129.8L129.8,617.79 H130.3L130.3,617.79 H130.8L130.8,617.78 H131.3L131.3,617.78 H131.8L131.8,617.78 H132.3L132.3,614.38 H132.8L132.8,614.38 H133.3L133.3,614.38 H133.8L133.8,614.37 H134.3L134.3,619.31 H134.8L134.8,619.3 H135.3L135.3,619.3 H135.8L135.8,619.3 H136.3L136.3,627.17 H136.8L136.8,627.17 H137.3L137.3,615.55 H137.8L137.8,615.54 H138.3L138.3,615.54 H138.8L138.8,615.54 H139.3L139.3,620.43 H139.8L139.8,620.43 H140.3L140.3,620.42 H140.8L140.8,620.42 H141.3L141.3,620.42 H141.8L141.8,620.42 H142.3L142.3,626.88 H142.8L142.8,626.88 H143.3L143.3,626.88 H143.8L143.8,626.87 H144.3L144.3,626.87 H144.8L144.8,613.21 H145.3L145.3,613.2 H145.8L145.8,613.2 H146.3L146.3,623.74 H146.8L146.8,623.73 H147.3L147.3,623.73 H147.8L147.8,623.73 H148.3L148.3,610.41 H148.8L148.8,610.41 H149.3L149.3,610.4 H149.8L149.8,625.16 H150.3L150.3,625.16 H150.8L150.8,625.16 H151.3L151.3,625.15 H151.8L151.8,621.3 H152.3L152.3,621.3 H152.8L152.8,621.3 H153.3L153.3,616.06 H153.8L153.8,616.05 H154.3L154.3,616.05 H154.8L154.8,616.05 H155.3L155.3,625.39 H155.8L155.8,625.39 H156.3L156.3,625.38 H156.8L156.8,625.38 H157.3L157.3,614.22 H157.8L157.8,614.22 H158.3L158.3,614.22 H158.8L158.8,614.21 H159.3L159.3,620.65 H159.8L159.8,620.64 H160.3L160.3,620.64 H160.8L160.8,624.25 H161.3L161.3,624.25 H161.8L161.8,624.24 H162.3L162.3,624.24 H162.8L162.8,624.24 H163.3L163.3,624.23 H163.8L163.8,620.01 H164.3L164.3,619.94 H164.8L164.8,619.28 H165.3L165.3,617.94 H165.8L165.8,619.08 H166.3L166.3,619.08 H166.8L166.8,618.41 H167.3L167.3,617.04 H167.8L167.8,610.89 H168.3L168.3,610.89 H168.8L168.8,609.77 H169.3L169.3,606.72 H169.8L169.8,606.72 H170.3L170.3,606.72 H170.8L170.8,603.47 H171.3L171.3,600.23 H171.8L171.8,590.75 H172.3L172.3,590.75 H172.8L172.8,588.72 H173.3L173.3,590.15 H173.8L173.8,593.75 H174.3L174.3,599.62 H174.8L174.8,599.62 H175.3L175.3,599.62 H175.8L175.8,607.72 H176.3L176.3,608.76 H176.8L176.8,608.76 H177.3L177.3,609.55 H177.8L177.8,610.52 H178.3L178.3,610.52 H178.8L178.8,613.66 H179.3L179.3,614.58 H179.8L179.8,615.04 H180.3L180.3,615.04 H180.8L180.8,609.65 H181.3L181.3,610.28 H181.8L181.8,610.28 H182.3L182.3,621.02 H182.8L182.8,621.92 H183.3L183.3,622.82 H183.8L183.8,624.71 H184.3L184.3,624.71 H184.8L184.8,614.12 H185.3L185.3,614.12 H185.8L185.8,614.11 H186.3L186.3,614.11 H186.8L186.8,614.11 H187.3L187.3,614.11 H187.8L187.8,622.91 H188.3L188.3,622.91 H188.8L188.8,622.91 H189.3L189.3,622.91 H189.8L189.8,622.9 H190.3L190.3,622.9 H190.8L190.8,619.9 H191.3L191.3,619.9 H191.8L191.8,619.9 H192.3L192.3,619.89 H192.8L192.8,619.89 H193.3L193.3,625.05 H193.8L193.8,625.05 H194.3L194.3,625.05 H194.8L194.8,625.04 H195.3L195.3,625.04 H195.8L195.8,622.48 H196.3L196.3,622.48 H196.8L196.8,622.48 H197.3L197.3,622.47 H197.8L197.8,615.2 H198.3L198.3,615.2 H198.8L198.8,615.19 H199.3L199.3,615.19 H199.8L199.8,615.19 H200.3L200.3,615.19 H200.8L200.8,615.48 H201.3L201.3,615.47 H201.8L201.8,615.47 H202.3L202.3,623.38 H202.8L202.8,623.37 H203.3L203.3,623.37 H203.8L203.8,623.37 H204.3L204.3,623.69 H204.8L204.8,623.69 H205.3L205.3,623.69 H205.8L205.8,621.23 H206.3L206.3,621.23 H206.8L206.8,621.23 H207.3L207.3,621.22 H207.8L207.8,621.22 H208.3L208.3,620.08 H208.8L208.8,620.08 H209.3L209.3,620.07 H209.8L209.8,620.07 H210.3L210.3,625.28 H210.8L210.8,625.27 H211.3L211.3,625.27 H211.8L211.8,625.27 H212.3L212.3,620.73 H212.8L212.8,620.72 H213.3L213.3,620.72 H213.8L213.8,620.72 H214.3L214.3,620.72 H214.8L214.8,617.6 H215.3L215.3,617.59 H215.8L215.8,622.8 H216.3L216.3,622.8 H216.8L216.8,622.79 H217.3L217.3,622.79 H217.8L217.8,623.14 H218.3L218.3,623.13 H218.8L218.8,623.13 H219.3L219.3,623.13 H219.8L219.8,623.12 H220.3L220.3,611.74 H220.8L220.8,611.73 H221.3L221.3,611.73 H221.8L221.8,611.73 H222.3L222.3,622.82 H222.8L222.8,622.82 H223.3L223.3,622.81 H223.8L223.8,622.81 H224.3L224.3,614.85 H224.8L224.8,614.84 H225.3L225.3,614.84 H225.8L225.8,615.61 H226.3L226.3,615.61 H226.8L226.8,615.61 H227.3L227.3,615.61 H227.8L227.8,625.98 H228.3L228.3,625.97 H228.8L228.8,622.34 H229.3L229.3,622.33 H229.8L229.8,622.33 H230.3L230.3,622.33 H230.8L230.8,619.04 H231.3L231.3,619.04 H231.8L231.8,619.04 H232.3L232.3,619.03 H232.8L232.8,615.16 H233.3L233.3,615.16 H233.8L233.8,615.16 H234.3L234.3,615.16 H234.8L234.8,615.15 H235.3L235.3,620.82 H235.8L235.8,620.81 H236.3L236.3,616.1 H236.8L236.8,606.36 H237.3L237.3,601.25 H237.8L237.8,601.25 H238.3L238.3,601.25 H238.8L238.8,600.29 H239.3L239.3,599.33 H239.8L239.8,600.01 H240.3L240.3,600.43 H240.8L240.8,603.83 H241.3L241.3,604.25 H241.8L241.8,604.46 H242.3L242.3,605.65 H242.8L242.8,606.83 H243.3L243.3,607.43 H243.8L243.8,605.05 H244.3L244.3,601.61 H244.8L244.8,591.88 H245.3L245.3,591.88 H245.8L245.8,588.32 H246.3L246.3,581.68 H246.8L246.8,581.68 H247.3L247.3,579.76 H247.8L247.8,575.91 H248.3L248.3,566.39 H248.8L248.8,566.39 H249.3L249.3,566.39 H249.8L249.8,562.79 H250.3L250.3,559.19 H250.8L250.8,553.58 H251.3L251.3,551.08 H251.8L251.8,543.56 H252.3L252.3,540.5 H252.8L252.8,528.75 H253.3L253.3,518.84 H253.8L253.8,514.99 H254.3L254.3,518.07 H254.8L254.8,526.25 H255.3L255.3,538.75 H255.8L255.8,542.77 H256.3L256.3,544.9 H256.8L256.8,547.97 H257.3L257.3,551.05 H257.8L257.8,556.15 H258.3L258.3,559.94 H258.8L258.8,564.03 H259.3L259.3,564.03 H259.8L259.8,564.03 H260.3L260.3,576.29 H260.8L260.8,579.23 H261.3L261.3,580.7 H261.8L261.8,580.7 H262.3L262.3,589.82 H262.8L262.8,592.76 H263.3L263.3,595.7 H263.8L263.8,595.7 H264.3L264.3,595.7 H264.8L264.8,600.48 H265.3L265.3,603.57 H265.8L265.8,606.58 H266.3L266.3,607.72 H266.8L266.8,607.72 H267.3L267.3,607.72 H267.8L267.8,610.8 H268.3L268.3,611.31 H268.8L268.8,611.31 H269.3L269.3,628.07 H269.8L269.8,628.06 H270.3L270.3,628.06 H270.8L270.8,628.06 H271.3L271.3,628.06 H271.8L271.8,620.6 H272.3L272.3,620.6 H272.8L272.8,626.14 H273.3L273.3,626.14 H273.8L273.8,626.14 H274.3L274.3,625.11 H274.8L274.8,625.11 H275.3L275.3,625.11 H275.8L275.8,625.1 H276.3L276.3,625.1 H276.8L276.8,620.8 H277.3L277.3,620.22 H277.8L277.8,614.47 H278.3L278.3,609.3 H278.8L278.8,609.29 H279.3L279.3,597.03 H279.8L279.8,597.02 H280.3L280.3,597.02 H280.8L280.8,598.74 H281.3L281.3,598.73 H281.8L281.8,598.73 H282.3L282.3,598.72 H282.8L282.8,608.73 H283.3L283.3,608.73 H283.8L283.8,608.72 H284.3L284.3,608.71 H284.8L284.8,608.7 H285.3L285.3,605.93 H285.8L285.8,605.93 H286.3L286.3,605.92 H286.8L286.8,605.91 H287.3L287.3,601.07 H287.8L287.8,601.06 H288.3L288.3,601.05 H288.8L288.8,603.25 H289.3L289.3,603.24 H289.8L289.8,603.23 H290.3L290.3,606.37 H290.8L290.8,606.36 H291.3L291.3,611.27 H291.8L291.8,611.26 H292.3L292.3,614.03 H292.8L292.8,614.02 H293.3L293.3,614.01 H293.8L293.8,614 H294.3L294.3,606.95 H294.8L294.8,606.94 H295.3L295.3,606.94 H295.8L295.8,606.93 H296.3L296.3,612.77 H296.8L296.8,612.76 H297.3L297.3,612.76 H297.8L297.8,612.75 H298.3L298.3,613.83 H298.8L298.8,613.82 H299.3L299.3,613.82 H299.8L299.8,611.34 H300.3L300.3,611.33 H300.8L300.8,611.32 H301.3L301.3,611.54 H301.8L301.8,611.53 H302.3L302.3,611.52 H302.8L302.8,611.52 H303.3L303.3,604.69 H303.8L303.8,604.68 H304.3L304.3,604.67 H304.8L304.8,604.67 H305.3L305.3,602.71 H305.8L305.8,602.7 H306.3L306.3,602.69 H306.8L306.8,602.68 H307.3L307.3,609.96 H307.8L307.8,609.95 H308.3L308.3,609.95 H308.8L308.8,609.94 H309.3L309.3,604.97 H309.8L309.8,604.96 H310.3L310.3,611.5 H310.8L310.8,611.49 H311.3L311.3,611.48 H311.8L311.8,603.69 H312.3L312.3,603.64 H312.8L312.8,602.27 H313.3L313.3,602.27 H313.8L313.8,602.27 H314.3L314.3,598.91 H314.8L314.8,595.54 H315.3L315.3,589.6 H315.8L315.8,589.6 H316.3L316.3,588.31 H316.8L316.8,585.13 H317.3L317.3,580.62 H317.8L317.8,579.34 H318.3L318.3,573.81 H318.8L318.8,573.81 H319.3L319.3,573.81 H319.8L319.8,573.28 H320.3L320.3,572.75 H320.8L320.8,570.43 H321.3L321.3,570.43 H321.8L321.8,570.01 H322.3L322.3,569.16 H322.8L322.8,566.25 H323.3L323.3,566.25 H323.8L323.8,566.08 H324.3L324.3,565.75 H324.8L324.8,566.41 H325.3L325.3,566.41 H325.8L325.8,565.85 H326.3L326.3,557.73 H326.8L326.8,557.73 H327.3L327.3,550.27 H327.8L327.8,542.82 H328.3L328.3,537.78 H328.8L328.8,531.56 H329.3L329.3,525.33 H329.8L329.8,519.11 H330.3L330.3,514.44 H330.8L330.8,511.33 H331.3L331.3,508.22 H331.8L331.8,505.11 H332.3L332.3,475.5 H332.8L332.8,474.58 H333.3L333.3,474.38 H333.8L333.8,474.18 H334.3L334.3,473.9 H334.8L334.8,472.9 H335.3L335.3,471.9 H335.8L335.8,471.5 H336.3L336.3,472.5 H336.8L336.8,499.5 H337.3L337.3,509.38 H337.8L337.8,514.47 H338.3L338.3,518.06 H338.8L338.8,521.01 H339.3L339.3,523.96 H339.8L339.8,526.91 H340.3L340.3,529.85 H340.8L340.8,532.8 H341.3L341.3,535.75 H341.8L341.8,538.79 H342.3L342.3,542.65 H342.8L342.8,546.76 H343.3L343.3,548.73 H343.8L343.8,552.59 H344.3L344.3,552.59 H344.8L344.8,560.15 H345.3L345.3,565.24 H345.8L345.8,567.79 H346.3L346.3,567.79 H346.8L346.8,581.81 H347.3L347.3,585.97 H347.8L347.8,589.12 H348.3L348.3,589.12 H348.8L348.8,597.52 H349.3L349.3,600.24 H349.8L349.8,600.24 H350.3L350.3,603.21 H350.8L350.8,603.16 H351.3L351.3,606.85 H351.8L351.8,606.8 H352.3L352.3,606.8 H352.8L352.8,609.06 H353.3L353.3,609.05 H353.8L353.8,601.58 H354.3L354.3,601.57 H354.8L354.8,601.57 H355.3L355.3,601.57 H355.8L355.8,601.57 H356.3L356.3,605.99 H356.8L356.8,605.99 H357.3L357.3,605.98 H357.8L357.8,605.98 H358.3L358.3,605.98 H358.8L358.8,605.98 H359.3L359.3,600.05 H359.8L359.8,600.05 H360.3L360.3,600.05 H360.8L360.8,604.36 H361.3L361.3,604.35 H361.8L361.8,604.35 H362.3L362.3,604.35 H362.8L362.8,599.27 H363.3L363.3,599.27 H363.8L363.8,599.27 H364.3L364.3,599.26 H364.8L364.8,599.26 H365.3L365.3,599.26 H365.8L365.8,598.77 H366.3L366.3,598.77 H366.8L366.8,598.76 H367.3L367.3,601.86 H367.8L367.8,601.86 H368.3L368.3,601.85 H368.8L368.8,601.85 H369.3L369.3,600.04 H369.8L369.8,600.04 H370.3L370.3,600.04 H370.8L370.8,600.03 H371.3L371.3,595.87 H371.8L371.8,595.87 H372.3L372.3,595.87 H372.8L372.8,595.86 H373.3L373.3,601.04 H373.8L373.8,601.03 H374.3L374.3,601.03 H374.8L374.8,601.03 H375.3L375.3,599.95 H375.8L375.8,599.94 H376.3L376.3,599.94 H376.8L376.8,603.44 H377.3L377.3,603.44 H377.8L377.8,603.44 H378.3L378.3,603.44 H378.8L378.8,603.44 H379.3L379.3,603.43 H379.8L379.8,608.34 H380.3L380.3,608.34 H380.8L380.8,608.33 H381.3L381.3,608.33 H381.8L381.8,608.33 H382.3L382.3,608.95 H382.8L382.8,608.95 H383.3L383.3,608.95 H383.8L383.8,608.94 H384.3L384.3,607.85 H384.8L384.8,607.85 H385.3L385.3,607.84 H385.8L385.8,607.84 H386.3L386.3,607.84 H386.8L386.8,604.96 H387.3L387.3,604.96 H387.8L387.8,604.96 H388.3L388.3,603.06 H388.8L388.8,603.05 H389.3L389.3,603.05 H389.8L389.8,603.05 H390.3L390.3,603.33 H390.8L390.8,603.33 H391.3L391.3,603.33 H391.8L391.8,603.33 H392.3L392.3,608.25 H392.8L392.8,608.25 H393.3L393.3,605.85 H393.8L393.8,605.85 H394.3L394.3,603.02 H394.8L394.8,600.02 H395.3L395.3,594.28 H395.8L395.8,590.95 H396.3L396.3,579.16 H396.8L396.8,579.16 H397.3L397.3,578.49 H397.8L397.8,577.16 H398.3L398.3,580.84 H398.8L398.8,580.62 H399.3L399.3,577.34 H399.8L399.8,577.34 H400.3L400.3,577.12 H400.8L400.8,576.69 H401.3L401.3,574.68 H401.8L401.8,575.03 H402.3L402.3,575.21 H402.8L402.8,575.21 H403.3L403.3,578.62 H403.8L403.8,578.62 H404.3L404.3,577.83 H404.8L404.8,573.43 H405.3L405.3,573.43 H405.8L405.8,572.67 H406.3L406.3,570.05 H406.8L406.8,570.05 H407.3L407.3,570.05 H407.8L407.8,568.63 H408.3L408.3,560.53 H408.8L408.8,551.83 H409.3L409.3,544.76 H409.8L409.8,539.06 H410.3L410.3,534 H410.8L410.8,530 H411.3L411.3,526 H411.8L411.8,522 H412.3L412.3,515.56 H412.8L412.8,506.67 H413.3L413.3,501.85 H413.8L413.8,500.62 H414.3L414.3,503.69 H414.8L414.8,514.29 H415.3L415.3,521.82 H415.8L415.8,525.45 H416.3L416.3,529.09 H416.8L416.8,532.73 H417.3L417.3,536.39 H417.8L417.8,540.32 H418.3L418.3,544.25 H418.8L418.8,549.98 H419.3L419.3,557.48 H419.8L419.8,564.98 H420.3L420.3,568.73 H420.8L420.8,568.73 H421.3L421.3,568.73 H421.8L421.8,570.12 H422.3L422.3,570.29 H422.8L422.8,574 H423.3L423.3,576.55 H423.8L423.8,581.28 H424.3L424.3,583.61 H424.8L424.8,583.61 H425.3L425.3,607.27 H425.8L425.8,607.27 H426.3L426.3,607.28 H426.8L426.8,607.28 H427.3L427.3,602.54 H427.8L427.8,602.54 H428.3L428.3,602.54 H428.8L428.8,602.54 H429.3L429.3,602.55 H429.8L429.8,597.83 H430.3L430.3,597.83 H430.8L430.8,597.83 H431.3L431.3,597.83 H431.8L431.8,603.67 H432.3L432.3,603.67 H432.8L432.8,603.67 H433.3L433.3,601.27 H433.8L433.8,601.27 H434.3L434.3,601.27 H434.8L434.8,601.28 H435.3L435.3,601.28 H435.8L435.8,601.28 H436.3L436.3,602.68 H436.8L436.8,602.68 H437.3L437.3,602.68 H437.8L437.8,595.03 H438.3L438.3,595.03 H438.8L438.8,595.04 H439.3L439.3,606.59 H439.8L439.8,606.59 H440.3L440.3,606.6 H440.8L440.8,606.6 H441.3L441.3,606.6 H441.8L441.8,606.6 H442.3L442.3,608.52 H442.8L442.8,608.52 H443.3L443.3,608.52 H443.8L443.8,606.39 H444.3L444.3,606.39 H444.8L444.8,606.39 H445.3L445.3,606.39 H445.8L445.8,598.17 H446.3L446.3,598.18 H446.8L446.8,598.18 H447.3L447.3,598.18 H447.8L447.8,595.73 H448.3L448.3,595.73 H448.8L448.8,595.73 H449.3L449.3,597.96 H449.8L449.8,597.96 H450.3L450.3,597.96 H450.8L450.8,607.08 H451.3L451.3,607.08 H451.8L451.8,607.08 H452.3L452.3,607.09 H452.8L452.8,602.09 H453.3L453.3,602.09 H453.8L453.8,602.1 H454.3L454.3,602.1 H454.8L454.8,602.1 H455.3L455.3,602.1 H455.8L455.8,593.15 H456.3L456.3,593.16 H456.8L456.8,593.16 H457.3L457.3,608.73 H457.8L457.8,608.73 H458.3L458.3,608.73 H458.8L458.8,608.73 H459.3L459.3,606.54 H459.8L459.8,606.54 H460.3L460.3,606.54 H460.8L460.8,606.54 H461.3L461.3,606.55 H461.8L461.8,606.55 H462.3L462.3,601.94 H462.8L462.8,601.94 H463.3L463.3,601.94 H463.8L463.8,601.95 H464.3L464.3,601.95 H464.8L464.8,601.95 H465.3L465.3,607.19 H465.8L465.8,607.19 H466.3L466.3,607.2 H466.8L466.8,600.02 H467.3L467.3,600.02 H467.8L467.8,604.41 H468.3L468.3,604.41 H468.8L468.8,604.41 H469.3L469.3,604.42 H469.8L469.8,599.54 H470.3L470.3,599.54 H470.8L470.8,599.54 H471.3L471.3,599.54 H471.8L471.8,599.54 H472.3L472.3,608.51 H472.8L472.8,608.51 H473.3L473.3,608.51 H473.8L473.8,602.7 H474.3L474.3,602.7 H474.8L474.8,602.7 H475.3L475.3,602.7 H475.8L475.8,603.69 H476.3L476.3,603.69 H476.8L476.8,603.69 H477.3L477.3,605.65 H477.8L477.8,605.65 H478.3L478.3,605.65 H478.8L478.8,599.76 H479.3L479.3,599.76 H479.8L479.8,599.76 H480.3L480.3,599.76 H480.8L480.8,608.15 H481.3L481.3,608.15 H481.8L481.8,599.59 H482.3L482.3,599.59 H482.8L482.8,599.59 H483.3L483.3,599.59 H483.8L483.8,599.59 H484.3L484.3,599.59 H484.8L484.8,601.52 H485.3L485.3,601.52 H485.8L485.8,601.52 H486.3L486.3,601.52 H486.8L486.8,602.85 H487.3L487.3,602.85 H487.8L487.8,602.34 H488.3L488.3,600.24 H488.8L488.8,592.08 H489.3L489.3,592.08 H489.8L489.8,589.62 H490.3L490.3,583.73 H490.8L490.8,569.33 H491.3L491.3,569.33 H491.8L491.8,561.6 H492.3L492.3,552.98 H492.8L492.8,545.7 H493.3L493.3,537.2 H493.8L493.8,536.71 H494.3L494.3,537.43 H494.8L494.8,545.14 H495.3L495.3,551.87 H495.8L495.8,559.04 H496.3L496.3,565.07 H496.8L496.8,566.72 H497.3L497.3,566.72 H497.8L497.8,573.44 H498.3L498.3,576.75 H498.8L498.8,579.78 H499.3L499.3,579.78 H499.8L499.8,579.78 H500.3L500.3,590.71 H500.8L500.8,593.71 H501.3L501.3,596.4 H501.8L501.8,597.68 H502.3L502.3,597.68 H502.8L502.8,597.68 H503.3L503.3,605.05 H503.8L503.8,606.45 H504.3L504.3,607.86 H504.8L504.8,607.86 H505.3L505.3,593.68 H505.8L505.8,593.68 H506.3L506.3,593.68 H506.8L506.8,599.83 H507.3L507.3,599.83 H507.8L507.8,599.83 H508.3L508.3,599.83 H508.8L508.8,605.87 H509.3L509.3,605.87 H509.8L509.8,605.87 H510.3L510.3,605.87 H510.8L510.8,605.87 H511.3L511.3,595.3 H511.8L511.8,595.3 H512.3L512.3,595.3 H512.8L512.8,598.84 H513.3L513.3,598.84 H513.8L513.8,598.84 H514.3L514.3,598.84 H514.8L514.8,598.84 H515.3L515.3,598.84 H515.8L515.8,601.66 H516.3L516.3,601.66 H516.8L516.8,601.66 H517.3L517.3,601.66 H517.8L517.8,601.66 H518.3L518.3,601.9 H518.8L518.8,601.9 H519.3L519.3,606.74 H519.8L519.8,606.74 H520.3L520.3,606.74 H520.8L520.8,606.74 H521.3L521.3,606.74 H521.8L521.8,606.74 H522.3L522.3,605.52 H522.8L522.8,605.52 H523.3L523.3,605.52 H523.8L523.8,605.52 H524.3L524.3,602.1 H524.8L524.8,602.1 H525.3L525.3,602.1 H525.8L525.8,602.1 H526.3L526.3,610.89 H526.8L526.8,610.89 H527.3L527.3,610.89 H527.8L527.8,610.89 H528.3L528.3,610.89 H528.8L528.8,610.89 H529.3L529.3,603.27 H529.8L529.8,603.27 H530.3L530.3,603.27 H530.8L530.8,603.27 H531.3L531.3,603.27 H531.8L531.8,603.27 H532.3L532.3,602.48 H532.8L532.8,602.48 H533.3L533.3,602.48 H533.8L533.8,598.23 H534.3L534.3,598.23 H534.8L534.8,598.23 H535.3L535.3,598.23 H535.8L535.8,598.23 H536.3L536.3,602.37 H536.8L536.8,602.37 H537.3L537.3,602.37 H537.8L537.8,606.93 H538.3L538.3,606.93 H538.8L538.8,604.14 H539.3L539.3,604.14 H539.8L539.8,604.14 H540.3L540.3,596.47 H540.8L540.8,596.47 H541.3L541.3,596.47 H541.8L541.8,605.11 H542.3L542.3,605.11 H542.8L542.8,605.11 H543.3L543.3,605.11 H543.8L543.8,605.11 H544.3L544.3,605.11 H544.8L544.8,604.78 H545.3L545.3,604.78 H545.8L545.8,604.78 H546.3L546.3,605.16 H546.8L546.8,605.16 H547.3L547.3,605.16 H547.8L547.8,605.16 H548.3L548.3,605.16 H548.8L548.8,605.16 H549.3L549.3,601.93 H549.8L549.8,601.93 H550.3L550.3,609.45 H550.8L550.8,609.45 H551.3L551.3,609.45 H551.8L551.8,609.45 H552.3L552.3,602.93 H552.8L552.8,602.93 H553.3L553.3,602.93 H553.8L553.8,602.93 H554.3L554.3,602.93 H554.8L554.8,603.4 H555.3L555.3,603.4 H555.8L555.8,608.92 H556.3L556.3,608.92 H556.8L556.8,608.92 H557.3L557.3,608.92 H557.8L557.8,608.92 H558.3L558.3,604.36 H558.8L558.8,604.36 H559.3L559.3,604.36 H559.8L559.8,604.36 H560.3L560.3,604.15 H560.8L560.8,604.14 H561.3L561.3,604.13 H561.8L561.8,605.65 H562.3L562.3,605.64 H562.8L562.8,605.63 H563.3L563.3,606.43 H563.8L563.8,606.43 H564.3L564.3,606.42 H564.8L564.8,605.65 H565.3L565.3,600.87 H565.8L565.8,600.31 H566.3L566.3,600.24 H566.8L566.8,600.24 H567.3L567.3,599.68 H567.8L567.8,598.55 H568.3L568.3,591.65 H568.8L568.8,591.65 H569.3L569.3,590.62 H569.8L569.8,588.56 H570.3L570.3,580.95 H570.8L570.8,580.95 H571.3L571.3,579.83 H571.8L571.8,574.94 H572.3L572.3,574.94 H572.8L572.8,569.94 H573.3L573.3,557.7 H573.8L573.8,537.34 H574.3L574.3,536.58 H574.8L574.8,537.42 H575.3L575.3,557.7 H575.8L575.8,568.48 H576.3L576.3,574.32 H576.8L576.8,576.62 H577.3L577.3,579.39 H577.8L577.8,582.62 H578.3L578.3,584.04 H578.8L578.8,584.04 H579.3L579.3,584.04 H579.8L579.8,588.26 H580.3L580.3,588.71 H580.8L580.8,591.84 H581.3L581.3,592.74 H581.8L581.8,593.19 H582.3L582.3,593.19 H582.8L582.8,600.05 H583.3L583.3,601.1 H583.8L583.8,603.12 H584.3L584.3,605.23 H584.8L584.8,606.56 H585.3L585.3,609.21 H585.8L585.8,609.2 H586.3L586.3,609.19 H586.8L586.8,609.19 H587.3L587.3,608.7 H587.8L587.8,608.7 H588.3L588.3,608.69 H588.8L588.8,608.69 H589.3L589.3,599.75 H589.8L589.8,599.75 H590.3L590.3,599.74 H590.8L590.8,595.27 H591.3L591.3,595.27 H591.8L591.8,595.26 H592.3L592.3,600.68 H592.8L592.8,600.67 H593.3L593.3,600.67 H593.8L593.8,600.66 H594.3L594.3,600.65 H594.8L594.8,601.36 H595.3L595.3,601.35 H595.8L595.8,601.35 H596.3L596.3,601.34 H596.8L596.8,601.34 H597.3L597.3,601.33 H597.8L597.8,609.57 H598.3L598.3,609.57 H598.8L598.8,609.56 H599.3L599.3,609.56 H599.8L599.8,604.8 H600.3L600.3,604.79 H600.8L600.8,604.78 H601.3L601.3,601.66 H601.8L601.8,601.65 H602.3L602.3,596.65 H602.8L602.8,596.64 H603.3L603.3,596.64 H603.8L603.8,600.42 H604.3L604.3,600.41 H604.8L604.8,600.4 H605.3L605.3,600.4 H605.8L605.8,606.3 H606.3L606.3,606.29 H606.8L606.8,606.29 H607.3L607.3,606.28 H607.8L607.8,603.91 H608.3L608.3,603.9 H608.8L608.8,603.89 H609.3L609.3,603.89 H609.8L609.8,603.88 H610.3L610.3,606.37 H610.8L610.8,606.36 H611.3L611.3,606.36 H611.8L611.8,606.35 H612.3L612.3,606.34 H612.8L612.8,602.66 H613.3L613.3,602.66 H613.8L613.8,602.65 H614.3L614.3,602.64 H614.8L614.8,602.64 H615.3L615.3,601.85 H615.8L615.8,601.84 H616.3L616.3,601.84 H616.8L616.8,601.83 H617.3L617.3,604.53 H617.8L617.8,604.52 H618.3L618.3,604.51 H618.8L618.8,604.51 H619.3L619.3,604.19 H619.8L619.8,604.18 H620.3L620.3,607.49 H620.8L620.8,607.48 H621.3L621.3,607.48 H621.8L621.8,607.84 H622.3L622.3,607.84 H622.8L622.8,607.83 H623.3L623.3,607.82 H623.8L623.8,607.82 H624.3L624.3,598.58 H624.8L624.8,598.57 H625.3L625.3,598.56 H625.8L625.8,598.56 H626.3L626.3,597.52 H626.8L626.8,597.52 H627.3L627.3,597.51 H627.8L627.8,599.45 H628.3L628.3,599.44 H628.8L628.8,599.43 H629.3L629.3,590.83 H629.8L629.8,590.82 H630.3L630.3,590.81 H630.8L630.8,590.81 H631.3L631.3,603.1 H631.8L631.8,603.09 H632.3L632.3,603.08 H632.8L632.8,603.08 H633.3L633.3,600.69 H633.8L633.8,600.69 H634.3L634.3,600.68 H634.8L634.8,600.67 H635.3L635.3,599.55 H635.8L635.8,599.54 H636.3L636.3,599.53 H636.8L636.8,607.91 H637.3L637.3,607.9 H637.8L637.8,607.89 H638.3L638.3,607.89 H638.8L638.8,607.88 H639.3L639.3,607.87 H639.8L639.8,600.8 H640.3L640.3,600.8 H640.8L640.8,600.8 H641.3L641.3,600.81 H641.8L641.8,606.42 H642.3L642.3,606.42 H642.8L642.8,606.42 H643.3L643.3,606.43 H643.8L643.8,606.43 H644.3L644.3,606.43 H644.8L644.8,605.52 H645.3L645.3,605.52 H645.8L645.8,605.24 H646.3L646.3,604.78 H646.8L646.8,603.87 H647.3L647.3,602.96 H647.8L647.8,595.19 H648.3L648.3,595.2 H648.8L648.8,595.2 H649.3L649.3,595.63 H649.8L649.8,595.63 H650.3L650.3,595.63 H650.8L650.8,593.28 H651.3L651.3,590.93 H651.8L651.8,586.14 H652.3L652.3,586.14 H652.8L652.8,583.24 H653.3L653.3,583.24 H653.8L653.8,586.08 H654.3L654.3,586.08 H654.8L654.8,588.59 H655.3L655.3,588.59 H655.8L655.8,588.47 H656.3L656.3,588.22 H656.8L656.8,587.98 H657.3L657.3,589.23 H657.8L657.8,589.23 H658.3L658.3,590.22 H658.8L658.8,590.22 H659.3L659.3,590.08 H659.8L659.8,589.93 H660.3L660.3,592.57 H660.8L660.8,593.64 H661.3L661.3,594.18 H661.8L661.8,594.18 H662.3L662.3,594.76 H662.8L662.8,594.99 H663.3L663.3,594.39 H663.8L663.8,594.83 H664.3L664.3,595.23 H664.8L664.8,595.23 H665.3L665.3,599.51 H665.8L665.8,600.47 H666.3L666.3,601.43 H666.8L666.8,601.91 H667.3L667.3,601.91 H667.8L667.8,602.68 H668.3L668.3,599.37 H668.8L668.8,599.37 H669.3L669.3,605.53 H669.8L669.8,605.53 H670.3L670.3,605.53 H670.8L670.8,600.4 H671.3L671.3,600.41 H671.8L671.8,600.73 H672.3L672.3,600.74 H672.8L672.8,600.74 H673.3L673.3,603.01 H673.8L673.8,603.01 H674.3L674.3,603.01 H674.8L674.8,603.02 H675.3L675.3,598.51 H675.8L675.8,598.51 H676.3L676.3,598.51 H676.8L676.8,598.52 H677.3L677.3,606.27 H677.8L677.8,606.27 H678.3L678.3,606.28 H678.8L678.8,592.35 H679.3L679.3,590 H679.8L679.8,590 H680.3L680.3,590 H680.8L680.8,606.47 H681.3L681.3,606.47 H681.8L681.8,606.48 H682.3L682.3,606.48 H682.8L682.8,597.18 H683.3L683.3,597.18 H683.8L683.8,597.18 H684.3L684.3,592.98 H684.8L684.8,592.98 H685.3L685.3,592.99 H685.8L685.8,607.49 H686.3L686.3,607.5 H686.8L686.8,607.5 H687.3L687.3,607.5 H687.8L687.8,607.51 H688.3L688.3,607.51 H688.8L688.8,600.05 H689.3L689.3,600.06 H689.8L689.8,600.06 H690.3L690.3,600.06 H690.8L690.8,600.06 H691.3L691.3,598.47 H691.8L691.8,598.47 H692.3L692.3,601.52 H692.8L692.8,601.52 H693.3L693.3,598.28 H693.8L693.8,598.28 H694.3L694.3,598.28 H694.8L694.8,598.29 H695.3L695.3,599.93 H695.8L695.8,599.93 H696.3L696.3,599.93 H696.8L696.8,599.94 H697.3L697.3,596.2 H697.8L697.8,596.21 H698.3L698.3,596.21 H698.8L698.8,595.61 H699.3L699.3,595.62 H699.8L699.8,595.62 H700.3L700.3,595.62 H700.8L700.8,594.73 H701.3L701.3,594.73 H701.8L701.8,594.74 H702.3L702.3,606.02 H702.8L702.8,606.02 H703.3L703.3,604.15 H703.8L703.8,604.15 H704.3L704.3,604.16 H704.8L704.8,604.16 H705.3L705.3,608.22 H705.8L705.8,608.23 H706.3L706.3,608.23 H706.8L706.8,608.23 H707.3L707.3,608.24 H707.8L707.8,606.38 H708.3L708.3,606.38 H708.8L708.8,606.38 H709.3L709.3,606.39 H709.8L709.8,606.39 H710.3L710.3,601.31 H710.8L710.8,601.31 H711.3L711.3,601.32 H711.8L711.8,601.32 H712.3L712.3,601.46 H712.8L712.8,601.46 H713.3L713.3,599.19 H713.8L713.8,599.2 H714.3L714.3,599.2 H714.8L714.8,599.2 H715.3L715.3,599.21 H715.8L715.8,605.55 H716.3L716.3,605.55 H716.8L716.8,605.56 H717.3L717.3,605.56 H717.8L717.8,607.92 H718.3L718.3,607.92 H718.8L718.8,607.93 H719.3L719.3,607.93 H719.8L719.8,598.69 H720.3L720.3,598.69 H720.8L720.8,598.69 H721.3L721.3,599.1 H721.5L721.5,650 Z" fill="#404040"/>
<rect x="253.25" y="629" width="0.9" height="19" fill="#fff"/>
<rect x="338.15" y="634" width="1.5" height="14" fill="#fff"/>
<rect x="413.15" y="627" width="0.9" height="21" fill="#fff"/>
<path d="M334.3,603 L335.2,620 L335.4,631 L335.9,648.5 H331.3 L332,634 L333.3,630 L333.5,615 Z" fill="#fff"/>
<g fill="none" stroke="#262626" stroke-width="2.8">
<path d="M89.8,395.7 H719.5 V649 H89.8 Z"/>
</g>
<g stroke="#262626" stroke-width="2.2" fill="none">
<path d="M171,395.7 v6.3 M170.8,649 v-6.3"/>
<path d="M332.7,395.7 v6.3 M332.4,649 v-6.3"/>
<path d="M495,395.7 v6.3 M495.3,649 v-6.3"/>
<path d="M656.7,395.7 v6.3 M659,649 v-6.3"/>
<path d="M89.8,480.6 h6.3 M719.5,480.6 h-6.3"/>
<path d="M89.8,568 h6.3 M719.5,568 h-6.3"/>
</g>
<path d="M291.8,491.8 H320 M349,491.8 H376.5" stroke="#000" stroke-width="2.3" fill="none"/>
<path d="M329.4,491.8 L315.8,486.2 L319.4,491.8 L315.8,497.4 Z" fill="#000"/>
<path d="M339.6,491.8 L353.2,486.2 L349.6,491.8 L353.2,497.4 Z" fill="#000"/>
<text id="t19" x="64.5" y="371.5" font-size="27.5" textLength="35" lengthAdjust="spacingAndGlyphs">(b)</text>
<text id="t20" x="68.5" y="405.1" font-size="25.4" textLength="15.25" lengthAdjust="spacingAndGlyphs">0</text>
<text id="t21" x="43.5" y="489.5" font-size="25.4" textLength="40.75" lengthAdjust="spacingAndGlyphs">-20</text>
<text id="t22" x="43.5" y="577" font-size="25.4" textLength="40.75" lengthAdjust="spacingAndGlyphs">-40</text>
<text id="t23" x="43.5" y="650.4" font-size="25.4" textLength="40.75" lengthAdjust="spacingAndGlyphs">-60</text>
<text id="t24" x="153.75" y="674.8" font-size="25.4" textLength="30.75" lengthAdjust="spacingAndGlyphs">23</text>
<text id="t25" x="315.25" y="674.8" font-size="25.4" textLength="31" lengthAdjust="spacingAndGlyphs">25</text>
<text id="t26" x="478.5" y="674.8" font-size="25.4" textLength="31.25" lengthAdjust="spacingAndGlyphs">27</text>
<text id="t27" x="646.5" y="674.8" font-size="25.4" textLength="31.25" lengthAdjust="spacingAndGlyphs">29</text>
<text id="t28" x="305" y="703.3" font-size="27.2" textLength="207" lengthAdjust="spacingAndGlyphs">Frequency [GHz]</text>
<text><tspan id="t29" x="105.25" y="426.7" font-size="26" textLength="16.25" lengthAdjust="spacingAndGlyphs">Δ</tspan><tspan id="t30" x="118.7" y="426.4" font-size="27.5" textLength="11.15" lengthAdjust="spacingAndGlyphs" font-style="italic" style="font-family:'Liberation Serif',serif">f</tspan><tspan id="t31" x="132" y="432.7" font-size="14.8" textLength="30.5" lengthAdjust="spacingAndGlyphs">3dB</tspan><tspan id="t32" x="161.25" y="426.7" font-size="25.8" textLength="124.5" lengthAdjust="spacingAndGlyphs"> = 38 MHz</tspan></text>
<text id="t33" x="512" y="429" font-size="26.4" textLength="190" lengthAdjust="spacingAndGlyphs">RBW = 128 KHz</text>
<g transform="translate(25.2,570) rotate(-90)">
<text><tspan id="t34" x="-0.75" y="0" font-size="27.2" textLength="16.5" lengthAdjust="spacingAndGlyphs" font-style="italic">P</tspan><tspan id="t35" x="15.75" y="10.7" font-size="14.6" textLength="16" lengthAdjust="spacingAndGlyphs">RF</tspan><tspan id="t36" x="31.75" y="0" font-size="27.2" textLength="80.75" lengthAdjust="spacingAndGlyphs"> [dBm]</tspan></text>
</g>
</g>
</svg></body></html>
